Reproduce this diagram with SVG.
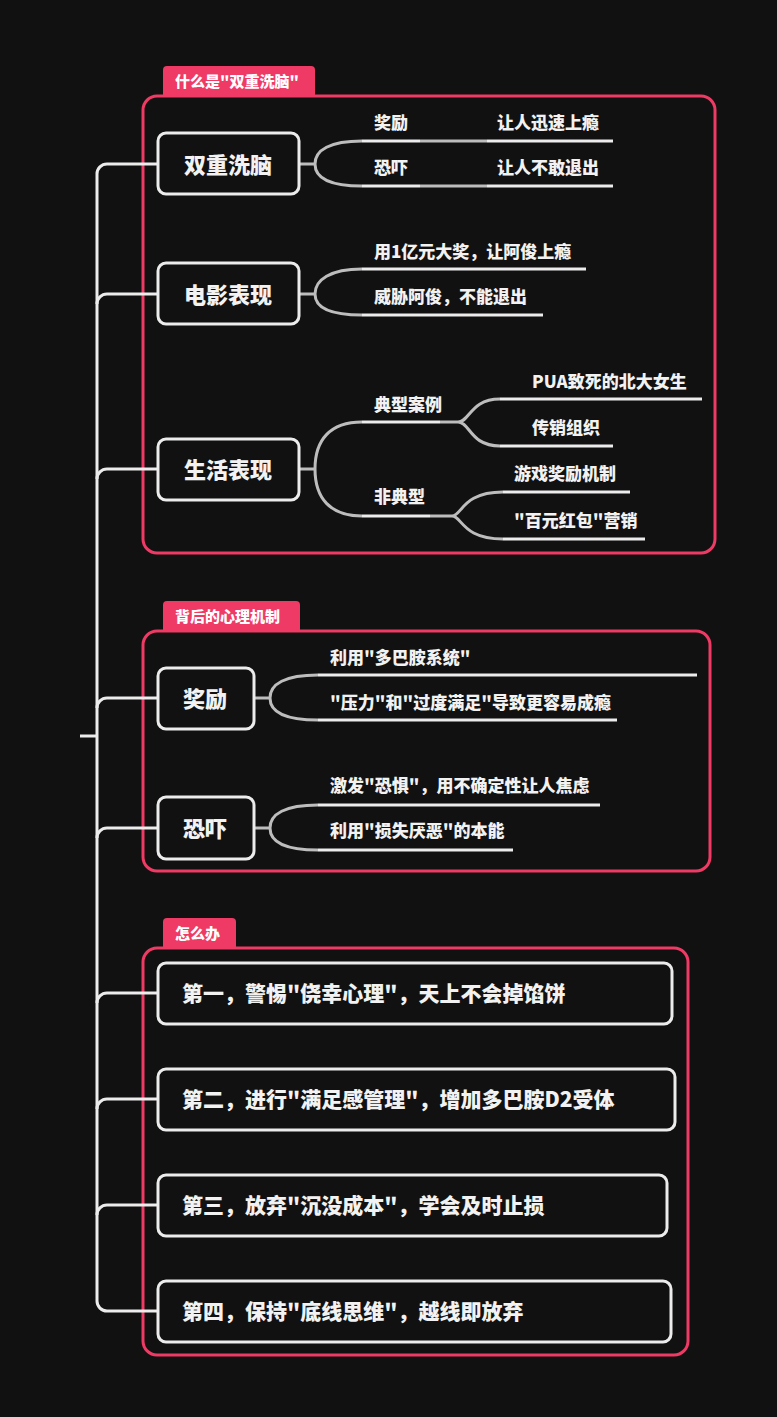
<svg xmlns="http://www.w3.org/2000/svg" width="777" height="1417" viewBox="0 0 777 1417">
<style>
text{font-family:"Noto Sans CJK SC","Noto Sans",sans-serif;font-weight:900;fill:#f2f2f2}
.frame{fill:none;stroke:#ee3a64;stroke-width:3}
.tab{fill:#ee3a64}
.tabt{font-size:15px;fill:#fff}
.node{fill:#111;stroke:#ececec;stroke-width:3}
.nt{font-size:22px;text-anchor:middle;dominant-baseline:central}
.lt{font-size:21px;dominant-baseline:central}
.st{font-size:17px}
.c{fill:none;stroke:#ececec;stroke-width:3}
.g{fill:none;stroke:#bdbdbd;stroke-width:3}
</style>
<rect width="777" height="1417" fill="#111"/>
<g id="frames">
<rect class="frame" x="143" y="96" width="572" height="457" rx="14"/>
<path class="tab" d="M163 96V70a4 4 0 0 1 4-4h144a4 4 0 0 1 4 4v26z"/>
<text class="tabt" x="175" y="87">什么是"双重洗脑"</text>
<rect class="frame" x="143" y="631" width="567" height="240" rx="14"/>
<path class="tab" d="M163 631V605a4 4 0 0 1 4-4h129a4 4 0 0 1 4 4v26z"/>
<text class="tabt" x="175" y="622">背后的心理机制</text>
<rect class="frame" x="143" y="948" width="545" height="407" rx="14"/>
<path class="tab" d="M163 948V922a4 4 0 0 1 4-4h65a4 4 0 0 1 4 4v26z"/>
<text class="tabt" x="175" y="939">怎么办</text>
</g>
<g id="connectors">
<path class="c" d="M80 736H97"/>
<path class="c" d="M157 164H107a10 10 0 0 0-10 10V1301a10 10 0 0 0 10 10H157"/>
<path class="c" d="M97 304a10 10 0 0 1 10-10H157M97 479a10 10 0 0 1 10-10H157M97 708a10 10 0 0 1 10-10H157M97 838a10 10 0 0 1 10-10H157M97 1003a10 10 0 0 1 10-10H157M97 1109a10 10 0 0 1 10-10H157M97 1215a10 10 0 0 1 10-10H157"/>
<path class="g" d="M299 164H315C315 150 330 141 362 141M315 164C315 178 330 186 362 186"/>
<path class="c" d="M362 141H420M487 141H613M362 186H420M487 186H613"/>
<path class="g" d="M420 141H487M420 186H487"/>
<path class="g" d="M299 294H315C315 280 330 269 362 269M315 294C315 308 330 315 362 315"/>
<path class="c" d="M362 269H586M362 315H543"/>
<path class="g" d="M299 469H315C315 440 330 422 362 422M315 469C315 498 330 516 362 516"/>
<path class="c" d="M362 422H440M362 516H430"/>
<path class="g" d="M440 422H458C470 422 470 399 500 399M458 422C470 422 470 446 500 446M430 516H452C462 516 462 492 503 492M452 516C462 516 462 539 503 539"/>
<path class="c" d="M500 399H702M500 446H613M503 492H630M503 539H645"/>
<path class="g" d="M254 698H270C270 684 285 675 318 675M270 698C270 712 285 720 318 720"/>
<path class="c" d="M318 675H697M318 720H617"/>
<path class="g" d="M254 828H270C270 814 285 805 318 805M270 828C270 842 285 850 318 850"/>
<path class="c" d="M318 805H600M318 850H513"/>
</g>
<g id="n1"><rect class="node" x="158" y="133" width="141" height="61" rx="8"/><text class="nt" x="228" y="163">双重洗脑</text></g>
<g id="n1a"><text class="st" x="374" y="129">奖励</text></g>
<g id="n1a1"><text class="st" x="497" y="129">让人迅速上瘾</text></g>
<g id="n1b"><text class="st" x="374" y="174">恐吓</text></g>
<g id="n1b1"><text class="st" x="497" y="174">让人不敢退出</text></g>
<g id="n2"><rect class="node" x="158" y="263" width="141" height="61" rx="8"/><text class="nt" x="228" y="293">电影表现</text></g>
<g id="n2a"><text class="st" x="374" y="258">用1亿元大奖，让阿俊上瘾</text></g>
<g id="n2b"><text class="st" x="374" y="303">威胁阿俊，不能退出</text></g>
<g id="n3"><rect class="node" x="158" y="439" width="141" height="61" rx="8"/><text class="nt" x="228" y="468">生活表现</text></g>
<g id="n3a"><text class="st" x="374" y="411">典型案例</text></g>
<g id="n3a1"><text class="st" x="532" y="388">PUA致死的北大女生</text></g>
<g id="n3a2"><text class="st" x="532" y="434">传销组织</text></g>
<g id="n3b"><text class="st" x="374" y="503">非典型</text></g>
<g id="n3b1"><text class="st" x="514" y="480">游戏奖励机制</text></g>
<g id="n3b2"><text class="st" x="514" y="527">"百元红包"营销</text></g>
<g id="n4"><rect class="node" x="158" y="668" width="96" height="61" rx="8"/><text class="nt" x="205" y="697">奖励</text></g>
<g id="n4a"><text class="st" x="330" y="664">利用"多巴胺系统"</text></g>
<g id="n4b"><text class="st" x="330" y="709">"压力"和"过度满足"导致更容易成瘾</text></g>
<g id="n5"><rect class="node" x="158" y="797" width="96" height="62" rx="8"/><text class="nt" x="205" y="827">恐吓</text></g>
<g id="n5a"><text class="st" x="330" y="792">激发"恐惧"，用不确定性让人焦虑</text></g>
<g id="n5b"><text class="st" x="330" y="837">利用"损失厌恶"的本能</text></g>
<g id="n6"><rect class="node" x="158" y="963" width="514" height="61" rx="8"/><text class="lt" x="182" y="992">第一，警惕"侥幸心理"，天上不会掉馅饼</text></g>
<g id="n7"><rect class="node" x="158" y="1069" width="517" height="61" rx="8"/><text class="lt" x="182" y="1098">第二，进行"满足感管理"，增加多巴胺D2受体</text></g>
<g id="n8"><rect class="node" x="158" y="1175" width="509" height="61" rx="8"/><text class="lt" x="182" y="1204">第三，放弃"沉没成本"，学会及时止损</text></g>
<g id="n9"><rect class="node" x="158" y="1281" width="513" height="61" rx="8"/><text class="lt" x="182" y="1310">第四，保持"底线思维"，越线即放弃</text></g>
</svg>
